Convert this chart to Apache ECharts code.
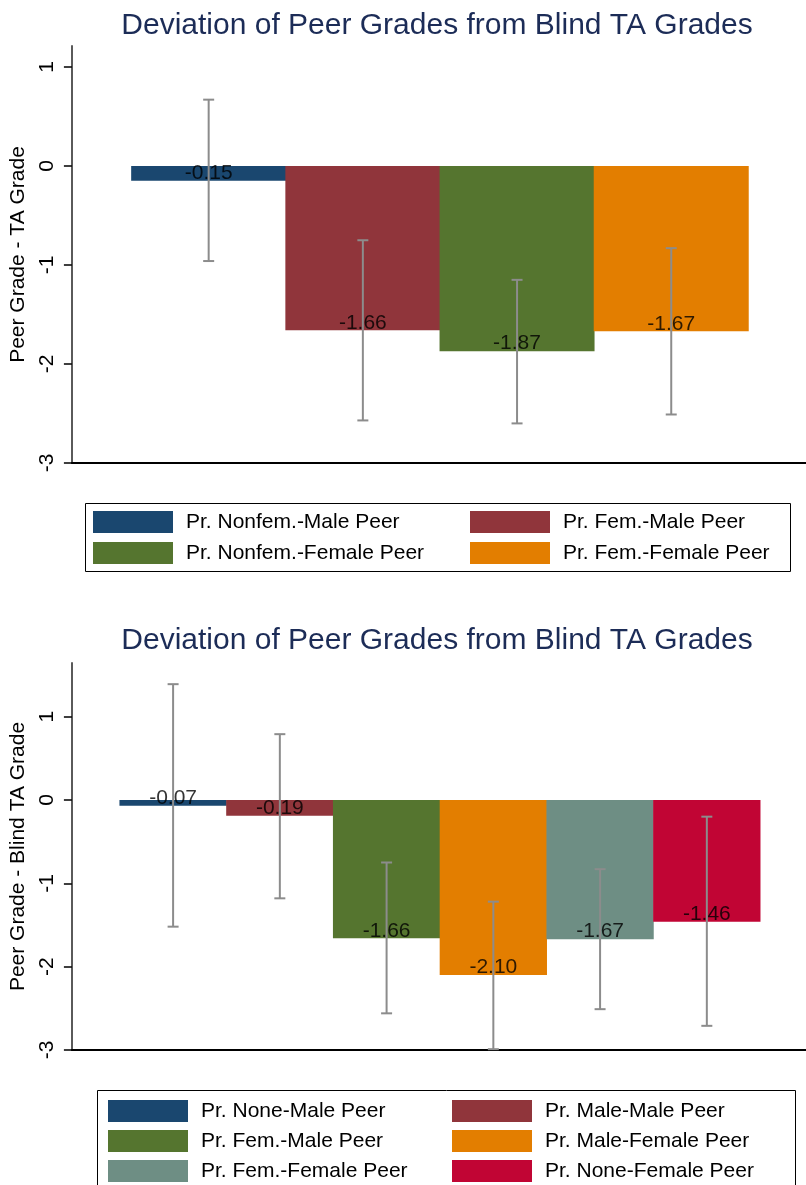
<!DOCTYPE html>
<html>
<head>
<meta charset="utf-8">
<script src="https://cdn.jsdelivr.net/npm/echarts@6/dist/echarts.min.js"></script>
<style>
html,body{margin:0;padding:0;background:#fff;}
#c1{width:806px;height:600px;}
#c2{width:806px;height:585px;}
</style>
</head>
<body>
<div id="c1"></div>
<div id="c2"></div>
<script>
// ---- data ----
const TITLE = 'Deviation of Peer Grades from Blind TA Grades';
const Y_TICKS = [-3, -2, -1, 0, 1];

const TOP_NAMES = ['Pr. Nonfem.-Male Peer', 'Pr. Fem.-Male Peer', 'Pr. Nonfem.-Female Peer', 'Pr. Fem.-Female Peer'];
const TOP_MEAN = [-0.15, -1.66, -1.87, -1.67];
const TOP_LO = [-0.96, -2.57, -2.60, -2.51];
const TOP_HI = [0.67, -0.75, -1.15, -0.83];
const TOP_YNAME = 'Peer Grade - TA Grade';

const BOT_NAMES = ['Pr. None-Male Peer', 'Pr. Male-Male Peer', 'Pr. Fem.-Male Peer', 'Pr. Male-Female Peer', 'Pr. Fem.-Female Peer', 'Pr. None-Female Peer'];
const BOT_MEAN = [-0.07, -0.19, -1.66, -2.10, -1.67, -1.46];
const BOT_LO = [-1.52, -1.18, -2.56, -2.99, -2.51, -2.71];
const BOT_HI = [1.39, 0.79, -0.75, -1.22, -0.83, -0.20];
const BOT_YNAME = 'Peer Grade - Blind TA Grade';

const TOP_COLORS = ['#1a476f', '#90353b', '#55752f', '#e37e00'];
const BOT_COLORS = ['#1a476f', '#90353b', '#55752f', '#e37e00', '#6e8e84', '#c10534'];

// ---- chart helpers ----
const FONT = 'Liberation Sans, Arial, Helvetica, sans-serif';

function yAxisDef(max, name, gap) {
  return {
    type: 'value', min: -3, max: max,
    name: name, nameLocation: 'middle', nameRotate: 90, nameGap: gap,
    nameTextStyle: {fontSize: 21, color: '#000', fontFamily: FONT},
    axisLine: {show: true, onZero: false, lineStyle: {color: '#5a5a5a', width: 2}},
    axisTick: {show: true, length: 8, customValues: Y_TICKS, lineStyle: {color: '#000', width: 1.5}},
    axisLabel: {show: true, rotate: 90, margin: 14, fontSize: 21, color: '#000', fontFamily: FONT, customValues: Y_TICKS},
    splitLine: {show: false}
  };
}
function xAxisDef(min, max) {
  return {
    type: 'value', min: min, max: max,
    axisLine: {show: true, onZero: false, lineStyle: {color: '#000', width: 2}},
    axisTick: {show: false}, axisLabel: {show: false}, splitLine: {show: false}
  };
}
function errRender(params, api) {
  const x = api.value(0);
  const pLo = api.coord([x, api.value(1)]);
  const pHi = api.coord([x, api.value(2)]);
  const cw = 5.5;
  const st = {stroke: '#8c8c8c', lineWidth: 2};
  return {type: 'group', children: [
    {type: 'line', shape: {x1: pLo[0], y1: pLo[1], x2: pHi[0], y2: pHi[1]}, style: st},
    {type: 'line', shape: {x1: pHi[0] - cw, y1: pHi[1], x2: pHi[0] + cw, y2: pHi[1]}, style: st},
    {type: 'line', shape: {x1: pLo[0] - cw, y1: pLo[1], x2: pLo[0] + cw, y2: pLo[1]}, style: st}
  ]};
}
function buildSeries(names, mean, lo, hi, colors, barW) {
  const s = [];
  names.forEach((n, i) => {
    s.push({
      name: n, type: 'bar',
      data: [[i + 1, mean[i]]], barWidth: barW, barGap: '-100%',
      itemStyle: {color: colors[i]}, silent: true, z: 2
    });
  });
  s.push({
    type: 'scatter', symbolSize: 0, silent: true, z: 3,
    data: mean.map((v, i) => [i + 1, v]),
    label: {show: true, position: 'top', distance: 0, offset: [0, 3], fontSize: 21, color: '#000', fontFamily: FONT,
      formatter: p => p.value[1].toFixed(2)}
  });
  s.push({
    type: 'custom', silent: true, z: 4,
    renderItem: errRender, encode: {x: 0, y: [1, 2]},
    data: mean.map((v, i) => [i + 1, lo[i], hi[i]])
  });
  return s;
}
function legendDef(left, top, data, gap) {
  return {
    orient: 'vertical', left: left, top: top, padding: 0,
    itemWidth: 80, itemHeight: 22, itemGap: gap, icon: 'rect', selectedMode: false,
    data: data,
    textStyle: {fontSize: 21, color: '#000', fontFamily: FONT, padding: [0, 0, 0, 8]}
  };
}
function titleDef(top) {
  return {text: TITLE, left: 437, top: top, textAlign: 'center', padding: 0,
    textStyle: {fontSize: 30, fontWeight: 'normal', color: '#1c2c57', fontFamily: FONT}};
}

// ---- top chart ----
const chart1 = echarts.init(document.getElementById('c1'), null, {renderer: 'canvas'});
chart1.setOption({
  animation: false,
  backgroundColor: '#fff',
  title: titleDef(11),
  grid: {left: 68, right: 0, top: 46, height: 417, containLabel: false},
  xAxis: xAxisDef(0.113, 4.874),
  yAxis: yAxisDef(1.212, TOP_YNAME, 40),
  legend: [
    legendDef(93, 511, [TOP_NAMES[0], TOP_NAMES[2]], 9),
    legendDef(470, 511, [TOP_NAMES[1], TOP_NAMES[3]], 9)
  ],
  graphic: [
    {type: 'rect', shape: {x: 85.5, y: 503.5, width: 705, height: 68}, style: {fill: 'none', stroke: '#000', lineWidth: 1}, silent: true}
  ],
  series: buildSeries(TOP_NAMES, TOP_MEAN, TOP_LO, TOP_HI, TOP_COLORS, 155)
});

// ---- bottom chart (page offset 600px) ----
const chart2 = echarts.init(document.getElementById('c2'), null, {renderer: 'canvas'});
chart2.setOption({
  animation: false,
  backgroundColor: '#fff',
  title: titleDef(26),
  grid: {left: 68, right: 0, top: 63, height: 387, containLabel: false},
  xAxis: xAxisDef(0.052, 6.929),
  yAxis: yAxisDef(1.644, BOT_YNAME, 40),
  legend: [
    legendDef(108, 500, [BOT_NAMES[0], BOT_NAMES[2], BOT_NAMES[4]], 8),
    legendDef(452, 500, [BOT_NAMES[1], BOT_NAMES[3], BOT_NAMES[5]], 8)
  ],
  graphic: [
    {type: 'rect', shape: {x: 97.5, y: 490.5, width: 698, height: 100}, style: {fill: 'none', stroke: '#000', lineWidth: 1}, silent: true}
  ],
  series: buildSeries(BOT_NAMES, BOT_MEAN, BOT_LO, BOT_HI, BOT_COLORS, 107.3)
});
</script>
</body>
</html>
